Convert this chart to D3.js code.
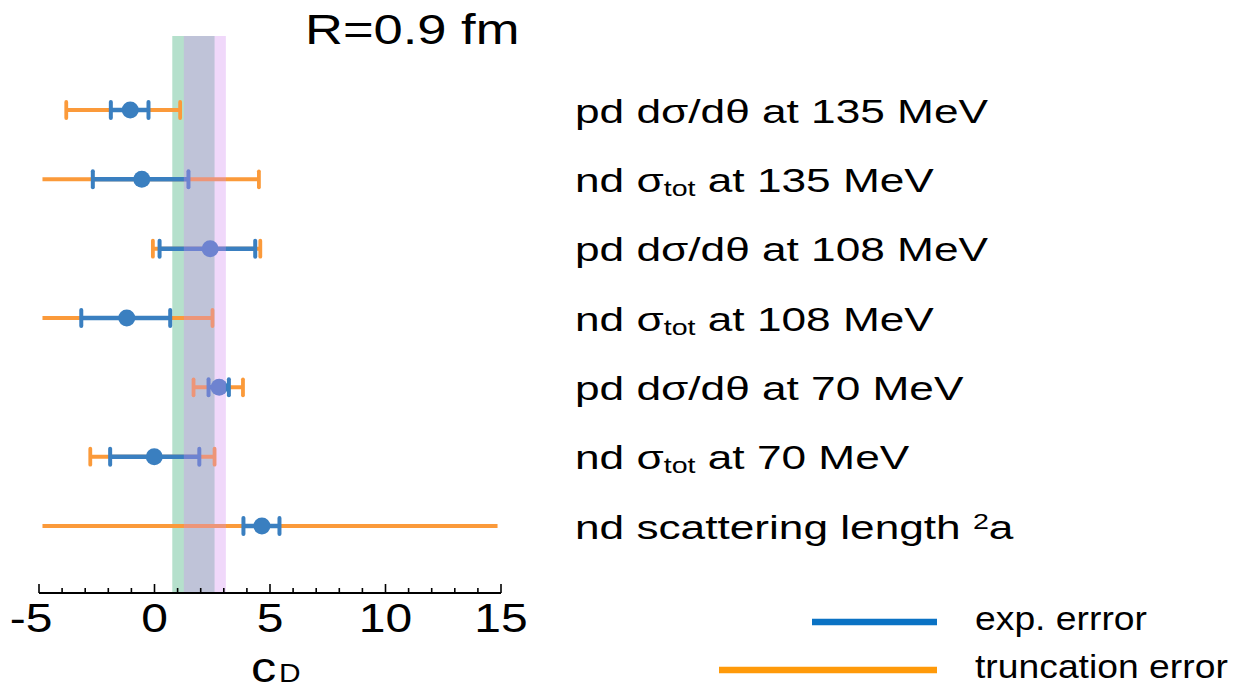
<!DOCTYPE html>
<html>
<head>
<meta charset="utf-8">
<script src="https://cdn.jsdelivr.net/npm/d3@7/dist/d3.min.js"></script>
<style>
  html, body { margin: 0; padding: 0; background: #fff; }
  svg { display: block; }
  text { font-family: "Liberation Sans", Arial, Helvetica, sans-serif; fill: #000; }
</style>
</head>
<body>
<svg id="chart" width="1241" height="690"></svg>
<script>
// c_D determinations, R = 0.9 fm
const observables = [
  "pd dσ/dθ at 135 MeV",
  "nd σtot at 135 MeV",
  "pd dσ/dθ at 108 MeV",
  "nd σtot at 108 MeV",
  "pd dσ/dθ at 70 MeV",
  "nd σtot at 70 MeV",
  "nd scattering length 2a"
];
const central  = [-1.05, -0.55, 2.41, -1.20, 2.80, -0.01, 4.65];
const expLow   = [-1.89, -2.67, 0.22, -3.17, 2.34, -1.92, 3.85];
const expHigh  = [-0.26,  1.47, 4.36,  0.68, 3.22,  1.94, 5.41];
const truncLow = [-3.82, -5.40, -0.07, -5.40, 1.69, -2.78, -5.40];
const truncHigh= [ 1.11,  4.52, 4.58,  2.51, 3.83,  2.60, 15.50];

// allowed c_D bands
const bandA = [0.77, 2.60];
const bandB = [1.27, 3.09];

const xTicks = [-5, 0, 5, 10, 15];
const xMinorTicks = d3.range(-5, 16, 1);

const blue = "#3a7fc0", orange = "#fb9a3a";

const svg = d3.select("#chart");

const x = d3.scaleLinear().domain([-5, 15]).range([39, 501]);
const y = d3.scalePoint().domain(observables).range([110, 526]);
const axisY = 593;
const topY = 36;

// plotting window for error bars
svg.append("defs").append("clipPath").attr("id", "plotClip")
  .append("rect")
  .attr("x", x(-4.85)).attr("y", 0)
  .attr("width", x(14.85) - x(-4.85)).attr("height", axisY);

// band A sits beneath the data
svg.append("rect")
  .attr("x", x(bandA[0])).attr("y", topY)
  .attr("width", x(bandA[1]) - x(bandA[0])).attr("height", axisY - topY)
  .attr("fill", "#b5e0cc");

const rows = observables.map((o, i) => ({
  o, c: central[i], el: expLow[i], eh: expHigh[i], tl: truncLow[i], th: truncHigh[i]
}));

const g = svg.append("g").attr("clip-path", "url(#plotClip)");
const capH = 8;

function errorBars(cls, lo, hi, color, w, capW) {
  const sel = g.selectAll("g." + cls).data(rows).join("g").attr("class", cls);
  sel.append("line")
    .attr("x1", d => x(lo(d))).attr("x2", d => x(hi(d)))
    .attr("y1", d => y(d.o)).attr("y2", d => y(d.o))
    .attr("stroke", color).attr("stroke-width", w);
  [lo, hi].forEach(f => {
    sel.append("line")
      .attr("x1", d => x(f(d))).attr("x2", d => x(f(d)))
      .attr("y1", d => y(d.o) - capH).attr("y2", d => y(d.o) + capH)
      .attr("stroke", color).attr("stroke-width", capW).attr("stroke-linecap", "round");
  });
}
errorBars("trunc", d => d.tl, d => d.th, orange, 4, 3.8);
errorBars("exp", d => d.el, d => d.eh, blue, 4.5, 4);

g.selectAll("circle.pt").data(rows).join("circle")
  .attr("class", "pt")
  .attr("cx", d => x(d.c)).attr("cy", d => y(d.o)).attr("r", 8.5)
  .attr("fill", blue);

// band B is translucent and lies over the data
svg.append("rect")
  .attr("x", x(bandB[0])).attr("y", topY)
  .attr("width", x(bandB[1]) - x(bandB[0])).attr("height", axisY - topY)
  .attr("fill", "rgb(211,140,240)").attr("fill-opacity", 0.34);

// x axis
const ax = svg.append("g").attr("stroke", "#000");
ax.append("line").attr("x1", x(-5)).attr("x2", x(15))
  .attr("y1", axisY).attr("y2", axisY).attr("stroke-width", 2);
ax.selectAll("line.minor").data(xMinorTicks).join("line")
  .attr("class", "minor")
  .attr("x1", d => x(d)).attr("x2", d => x(d))
  .attr("y1", axisY).attr("y2", d => xTicks.includes(d) ? axisY - 9 : axisY - 5)
  .attr("stroke-width", 1.6);

function stretchedText(px, py, sx, size, anchor) {
  return svg.append("text")
    .attr("transform", `translate(${px},${py}) scale(${sx},1)`)
    .attr("font-size", size)
    .attr("text-anchor", anchor || "start");
}

// tick labels: digits centred on the tick, minus sign hanging to the left
const tickSize = 40, tickSx = 1.2;
xTicks.forEach(t => {
  const digits = String(Math.abs(t));
  stretchedText(x(t), 632, tickSx, tickSize, "middle").text(digits);
  if (t < 0) {
    const half = digits.length * 0.556 * tickSize * tickSx / 2;
    stretchedText(x(t) - half, 632, tickSx, tickSize, "end").text("-");
  }
});

// axis title c_D
stretchedText(251, 682, 1.2, 42).text("c");
stretchedText(279, 682, 1.15, 26).text("D");

// title
stretchedText(305, 44, 1.25, 42).text("R=0.9 fm");

// observable labels
rows.forEach(d => {
  const t = stretchedText(575, y(d.o) + 12.5, 1.3, 34);
  const m = d.o.match(/^(nd )σtot( .*)$/);
  if (m) {
    t.append("tspan").text(m[1] + "σ");
    t.append("tspan").attr("font-size", 22).attr("dy", 4).text("tot");
    t.append("tspan").attr("dy", -4).text(m[2]);
  } else if (d.o.endsWith("2a")) {
    t.append("tspan").text(d.o.slice(0, -2));
    t.append("tspan").attr("font-size", 22).attr("dy", -10).text("2");
    t.append("tspan").attr("dy", 10).text("a");
  } else {
    t.text(d.o);
  }
});

// legend
const legend = [
  { name: "exp. errror", color: "#0a72c4", x0: 812, y: 622 },
  { name: "truncation error", color: "#ff9a0a", x0: 719, y: 670 }
];
legend.forEach(l => {
  svg.append("line").attr("x1", l.x0).attr("x2", 937)
    .attr("y1", l.y).attr("y2", l.y)
    .attr("stroke", l.color).attr("stroke-width", 6.5);
  stretchedText(975, l.y + 8, 1.13, 33).text(l.name);
});
</script>
</body>
</html>
